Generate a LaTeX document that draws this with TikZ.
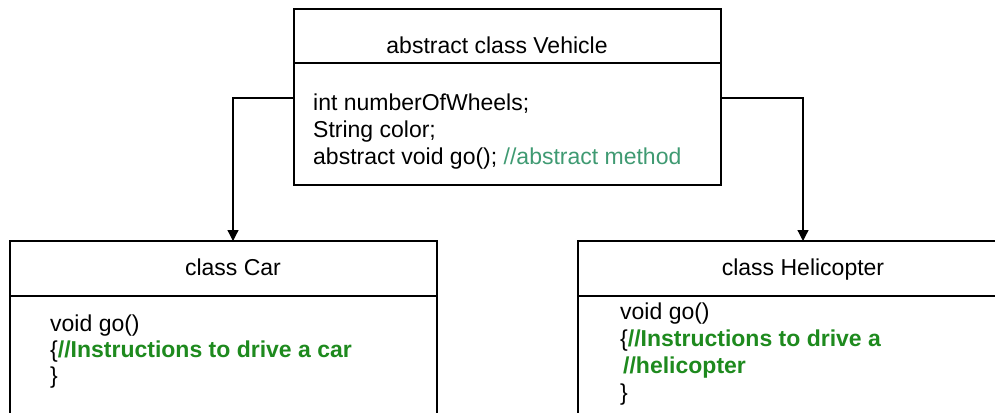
\documentclass[tikz,border=0pt]{standalone}
\usepackage{fontspec}
\setmainfont{Liberation Sans}
\usetikzlibrary{arrows.meta, calc}
\definecolor{commentteal}{HTML}{3F9A72}
\definecolor{commentgreen}{HTML}{1E8A1E}

\begin{document}
\begin{tikzpicture}[%
    x=1pt, y=-1pt,
    box/.style = {draw, line width=1.3pt, inner sep=0pt, outer sep=0pt, anchor=north west},
    title/.style = {anchor=base, inner sep=0pt},
    body/.style = {anchor=north west, align=left, inner sep=0pt},
    every node/.append style = {font=\fontsize{23}{27}\selectfont},
    every edge/.style = {draw, line width=1.3pt, -{Triangle[length=11pt, width=11pt]},
        to path={-| (\tikztotarget)}}
]
\useasboundingbox (0,0) rectangle (995,412);
\clip (0,0) rectangle (995,412);

% abstract class
\node (vhead) [box, minimum width=427pt, minimum height=54pt] at (294,9) {};
\node (vbody) [box, minimum width=427pt, minimum height=122pt] at (vhead.south west) {};
\node (vtitle) [title] at (497,53) {abstract class Vehicle};
\node (vtext) [body] at (313,94) {int numberOfWheels;\\ String color;\\
    abstract void go(); \textcolor{commentteal}{//abstract method}};

% subclasses
\node (chead) [box, minimum width=427pt, minimum height=55pt] at (10,241) {};
\node (cbody) [box, minimum width=427pt, minimum height=140pt] at (chead.south west) {};
\node (ctitle) [title] at (233,275) {class Car};
\node (ctext) [body, font=\fontsize{23}{26}\selectfont] at (50,315) {void go()\\
    \{\textcolor{commentgreen}{\bfseries //Instructions to drive a car}\\ \}};

\node (hhead) [box, minimum width=440pt, minimum height=55pt] at (578,241) {};
\node (hbody) [box, minimum width=440pt, minimum height=140pt] at (hhead.south west) {};
\node (htitle) [title] at (803,275) {class Helicopter};
\node (htext) [body] at (620,303) {void go()\\
    \{\textcolor{commentgreen}{\bfseries //Instructions to drive a}\\
    \hspace{3pt}\textcolor{commentgreen}{\bfseries //helicopter}\\ \}};

\path
    ([yshift=26pt]vbody.west) edge ([xshift=9.5pt]chead.north)
    ([yshift=26pt]vbody.east) edge ([xshift=5pt]hhead.north);
\end{tikzpicture}
\end{document}
